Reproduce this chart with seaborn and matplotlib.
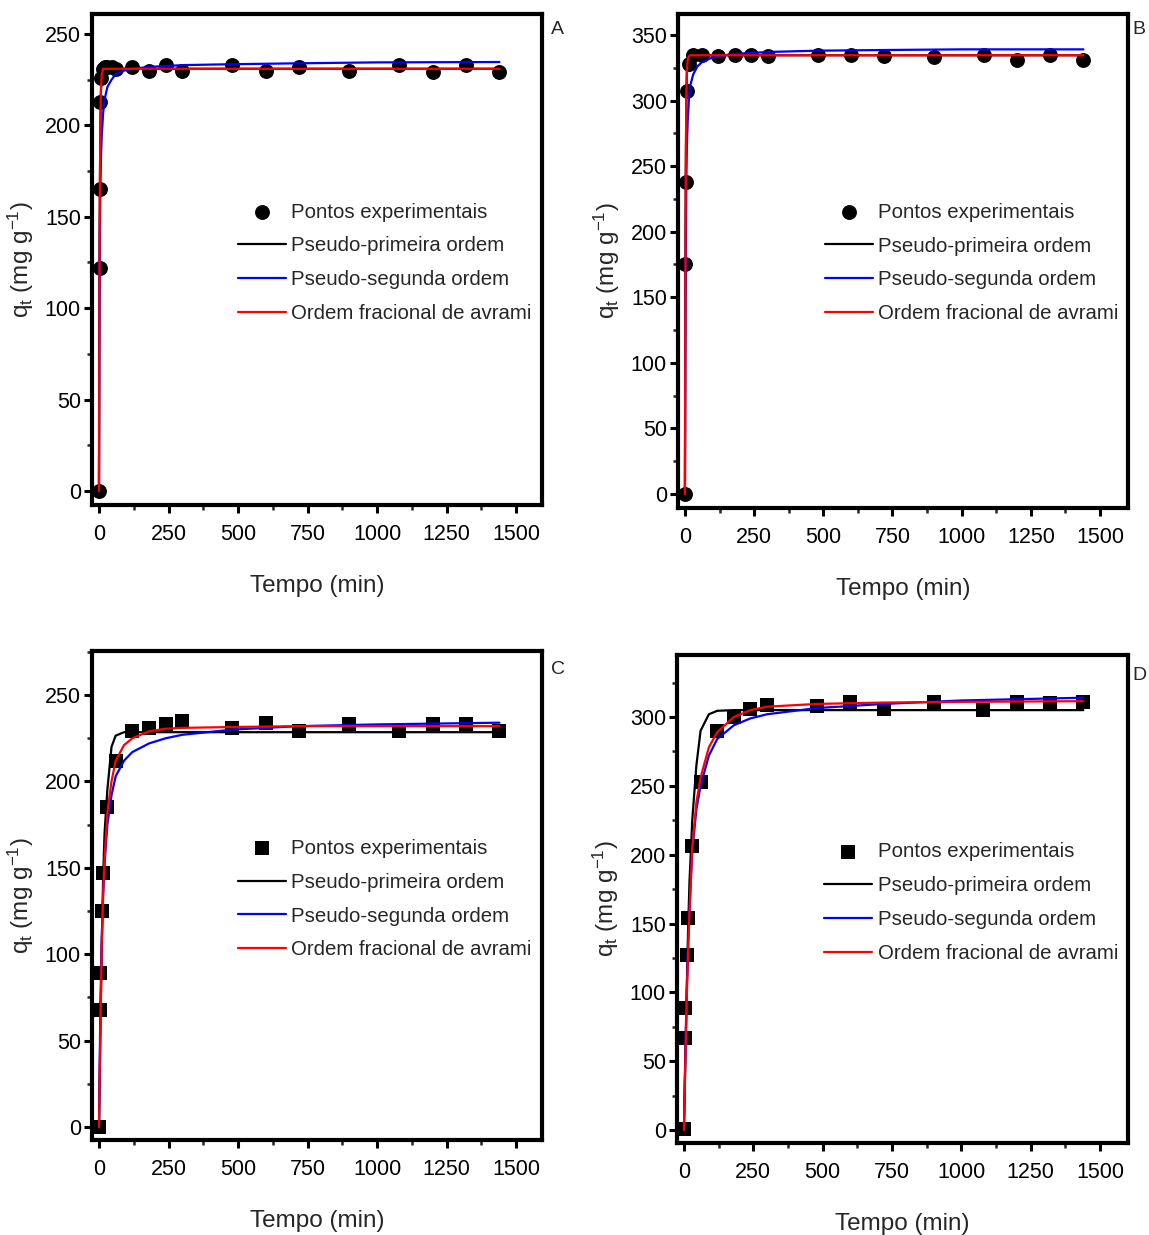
import numpy as np
import pandas as pd
import matplotlib
matplotlib.use('Agg')
import matplotlib.pyplot as plt
import seaborn as sns
from matplotlib.ticker import MultipleLocator

# ---------------- data ----------------
legend_labels = ["Pontos experimentais", "Pseudo-primeira ordem",
                 "Pseudo-segunda ordem", "Ordem fracional de avrami"]

# Panel A
tA_exp = [0, 2, 3, 5, 8, 15, 20, 30, 45, 60, 120, 180, 240, 300, 480, 600, 720, 900, 1080, 1200, 1320, 1440]
qA_exp = [0, 122, 165, 213, 226, 231, 232, 232, 232, 231, 232, 230, 233, 230, 233, 230, 232, 230, 233, 229, 233, 229]
tA_fit = [0, 1, 2, 3, 5, 7, 10, 15, 20, 30, 45, 60, 90, 120, 180, 300, 480, 720, 1000, 1440]
qA_pfo = [0, 75, 127, 160, 200, 218, 226, 230, 231, 231, 231, 231, 231, 231, 231, 231, 231, 231, 231, 231]
qA_pso = [0, 77, 116, 140, 167, 182, 195, 207, 214, 221, 225, 228, 230, 231, 232, 233, 233.5, 234, 234.5, 234.7]
qA_avr = [0, 70, 125, 162, 203, 220, 228, 231, 231, 231, 231, 231, 231, 231, 231, 231, 231, 231, 231, 231]

# Panel B
tB_exp = [0, 2, 3, 8, 15, 30, 60, 120, 180, 240, 300, 480, 600, 720, 900, 1080, 1200, 1320, 1440]
qB_exp = [0, 175, 238, 307, 328, 335, 335, 334, 335, 335, 334, 335, 335, 334, 333, 335, 331, 335, 331]
tB_fit = [0, 1, 2, 3, 5, 7, 10, 15, 20, 30, 45, 60, 90, 120, 180, 300, 480, 720, 1000, 1440]
qB_pfo = [0, 110, 190, 245, 300, 322, 331, 334, 334.5, 334.5, 334.5, 334.5, 334.5, 334.5, 334.5, 334.5, 334.5, 334.5, 334.5, 334.5]
qB_pso = [0, 85, 145, 185, 240, 265, 285, 303, 312, 320, 326, 329, 332, 334, 335.5, 337, 338, 338.5, 339, 339]
qB_avr = [0, 100, 190, 245, 303, 322, 331, 334, 334.5, 334.5, 334.5, 334.5, 334.5, 334.5, 334.5, 334.5, 334.5, 334.5, 334.5, 334.5]

# Panel C
tC_exp = [0, 3, 5, 10, 15, 30, 60, 120, 180, 240, 300, 480, 600, 720, 900, 1080, 1200, 1320, 1440]
qC_exp = [0, 68, 89, 125, 147, 185, 212, 229, 231, 233, 235, 231, 234, 229, 233, 229, 233, 233, 229]
tC_fit = [0, 5, 10, 15, 20, 30, 45, 60, 90, 120, 180, 240, 300, 480, 720, 1000, 1440]
qC_pfo = [0, 55, 105, 145, 170, 195, 220, 226.5, 228.5, 228.5, 228.5, 228.5, 228.5, 228.5, 228.5, 228.5, 228.5]
qC_pso = [0, 70, 110, 135, 152, 175, 192, 203, 212, 217, 222, 225, 227, 230, 232, 233, 234]
qC_avr = [0, 55, 105, 135, 155, 182, 200, 212, 221, 225, 229, 230.5, 231, 231.5, 232, 232, 232]

# Panel D
tD_exp = [0, 3, 5, 10, 15, 30, 60, 120, 180, 240, 300, 480, 600, 720, 900, 1080, 1200, 1320, 1440]
qD_exp = [1, 67, 89, 127, 154, 206, 253, 290, 300, 306, 309, 308, 311, 306, 311, 305, 311, 310, 311]
tD_fit = [0, 5, 10, 15, 20, 30, 45, 60, 90, 120, 180, 240, 300, 480, 720, 1000, 1440]
qD_pfo = [0, 50, 100, 145, 180, 225, 265, 290, 302, 304.5, 305, 305, 305, 305, 305, 305, 305]
qD_pso = [0, 55, 100, 135, 160, 203, 233, 250, 272, 284, 294, 299, 302, 306.5, 309.5, 312, 314]
qD_avr = [0, 50, 95, 130, 158, 205, 238, 256, 278, 289, 300, 305, 307.5, 309.5, 310.5, 311, 311.5]

# ---------------- style ----------------
sns.set_theme(style='ticks')
FONT = ['Liberation Sans', 'DejaVu Sans']
plt.rcParams['font.family'] = FONT
plt.rcParams['mathtext.fontset'] = 'custom'
plt.rcParams['mathtext.rm'] = 'Liberation Sans'
plt.rcParams['mathtext.it'] = 'Liberation Sans'
plt.rcParams['mathtext.default'] = 'regular'

fig = plt.figure(figsize=(11.49, 12.35), dpi=100)

panels = [
    dict(pos=[0.0801, 0.5911, 0.3916, 0.3976], t=tA_exp, q=qA_exp, tf=tA_fit,
         f=(qA_pfo, qA_pso, qA_avr), marker='o', xlim=(-25, 1593), ylim=(-7.7, 261),
         letter='A', lpos=(1.02, 0.985), leg=(0.324, 0.616)),
    dict(pos=[0.5901, 0.5887, 0.3916, 0.4000], t=tB_exp, q=qB_exp, tf=tB_fit,
         f=(qB_pfo, qB_pso, qB_avr), marker='o', xlim=(-25, 1601), ylim=(-10.7, 366),
         letter='B', lpos=(1.01, 0.985), leg=(0.327, 0.618)),
    dict(pos=[0.0801, 0.0769, 0.3916, 0.3960], t=tC_exp, q=qC_exp, tf=tC_fit,
         f=(qC_pfo, qC_pso, qC_avr), marker='s', xlim=(-25, 1593), ylim=(-7.5, 275.5),
         letter='C', lpos=(1.02, 0.98), leg=(0.324, 0.616)),
    dict(pos=[0.5892, 0.0745, 0.3925, 0.3951], t=tD_exp, q=qD_exp, tf=tD_fit,
         f=(qD_pfo, qD_pso, qD_avr), marker='s', xlim=(-25, 1601), ylim=(-9.4, 345),
         letter='D', lpos=(1.01, 0.975), leg=(0.327, 0.616)),
]

colors = ['#000000', '#0000ff', '#ff0000']

for p in panels:
    ax = fig.add_axes(p['pos'])
    sns.scatterplot(x=p['t'], y=p['q'], marker=p['marker'], s=115, color='black',
                    edgecolor='black', linewidth=0, ax=ax, label=legend_labels[0], zorder=2)
    for series, col, lab in zip(p['f'], colors, legend_labels[1:]):
        sns.lineplot(x=p['tf'], y=series, color=col, linewidth=1.6, ax=ax,
                     label=lab, zorder=3)
    ax.set_xlim(*p['xlim'])
    ax.set_ylim(*p['ylim'])
    ax.xaxis.set_major_locator(MultipleLocator(250))
    ax.xaxis.set_minor_locator(MultipleLocator(125))
    ax.yaxis.set_major_locator(MultipleLocator(50))
    ax.yaxis.set_minor_locator(MultipleLocator(25))
    for s in ax.spines.values():
        s.set_visible(True)
        s.set_linewidth(3.0)
        s.set_color('black')
    ax.tick_params(which='major', direction='out', length=6, width=2.2, labelsize=15.5,
                   pad=2, colors='black', top=False, right=False)
    ax.tick_params(which='minor', direction='out', length=3.5, width=1.8,
                   top=False, right=False)
    ax.tick_params(axis='x', which='major', pad=8)
    ax.set_xlabel('Tempo (min)', fontsize=17.5, labelpad=21)
    ax.set_ylabel(r'q$_{t}$ (mg g$^{-1}$)', fontsize=17.5, labelpad=6)
    ax.text(p['lpos'][0], p['lpos'][1], p['letter'], transform=ax.transAxes,
            fontsize=14, va='top', ha='left')
    ax.legend(loc='upper left', bbox_to_anchor=p['leg'], frameon=False, fontsize=14.7,
              handlelength=2.35, handletextpad=0.25, labelspacing=0.73,
              borderpad=0, borderaxespad=0)
    ax.set_facecolor('white')

fig.savefig('out.png', dpi=100, facecolor='white')
